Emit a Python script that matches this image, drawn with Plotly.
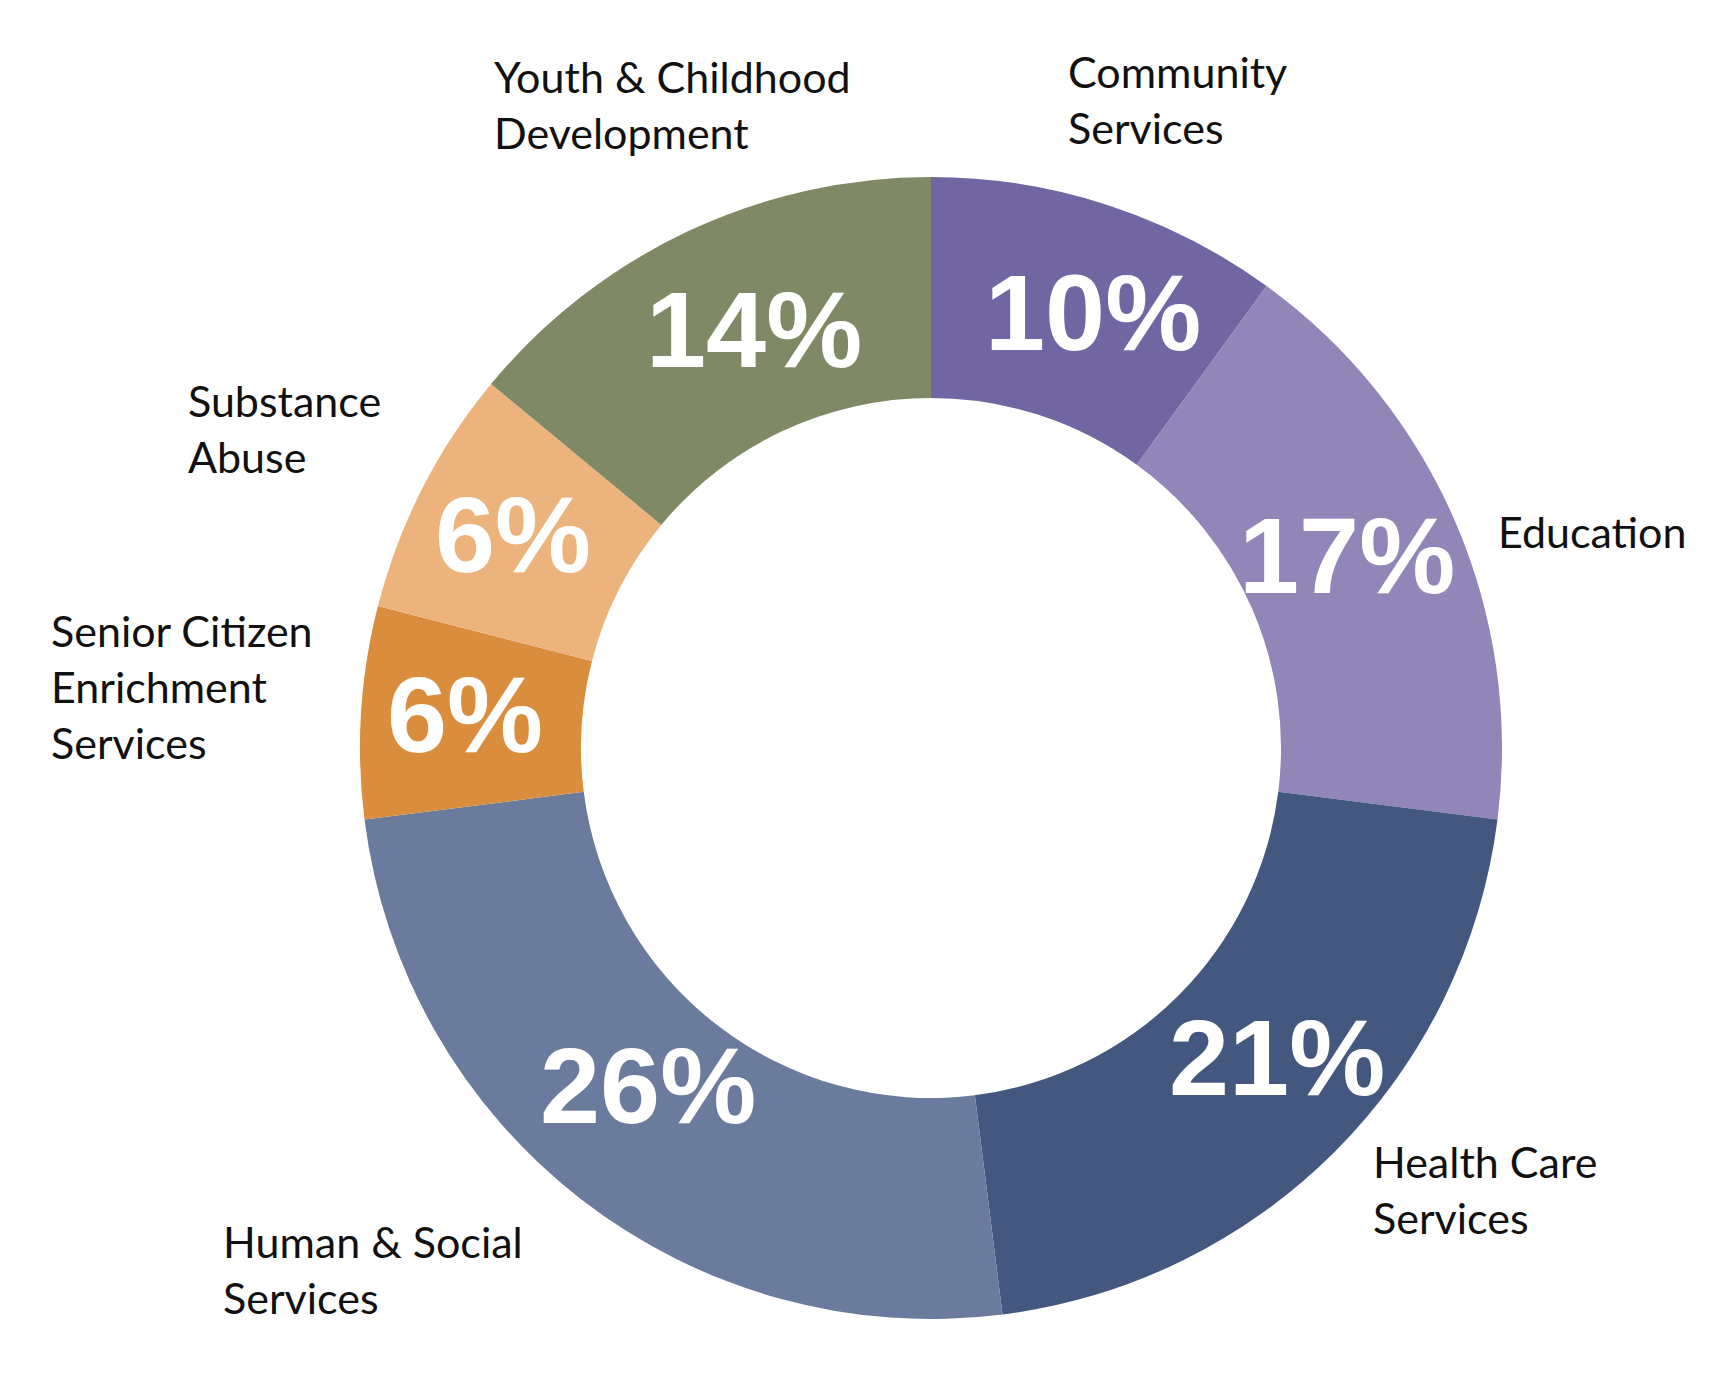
import math
import plotly.graph_objects as go

W, H = 1722, 1380
OFF = 8  # the page body adds an 8px margin; positions below are measured on the screenshot

categories = ["Community Services", "Education", "Health Care Services",
              "Human & Social Services", "Senior Citizen Enrichment Services",
              "Substance Abuse", "Youth & Childhood Development"]
values = [10, 17, 21, 25, 6, 7, 14]
# percentages as printed on the chart
pct_labels = ["10%", "17%", "21%", "26%", "6%", "6%", "14%"]
colors = ["#7266A2", "#9286B8", "#43577F", "#6B7B9E", "#DB8D3E", "#ECB47C", "#808966"]

# small hand nudges of the percentage labels: (degrees, px outward)
pct_nudge = [(2.4, 4), (-1.4, -2), (-3.2, 4), (2.1, -20), (0.5, 7), (0.0, 9), (2.3, -6)]

# outside labels: text, left edge (px), vertical centre (px)
side_labels = [
    ("Community<br>Services", 1066, 100),
    ("Education", 1496, 532),
    ("Health Care<br>Services", 1371, 1189),
    ("Human & Social<br>Services", 221, 1269),
    ("Senior Citizen<br>Enrichment<br>Services", 49, 686),
    ("Substance<br>Abuse", 186, 429),
    ("Youth & Childhood<br>Development", 492, 104),
]

CX, CY, R = 931, 748, 571   # ring centre and outer radius in px
HOLE = 0.613


def px_x(x):
    return (x - OFF) / W


def px_y(y):
    return 1 - (y - OFF) / H


def make_fig():
    fig = go.Figure(go.Pie(
        labels=categories,
        values=values,
        textinfo="none",
        marker=dict(colors=colors, line=dict(width=0)),
        hole=HOLE,
        sort=False,
        direction="clockwise",
        rotation=0,
        hoverinfo="skip",
        domain=dict(x=[px_x(CX - R), px_x(CX + R)],
                    y=[px_y(CY + R), px_y(CY - R)]),
    ))

    # percentage labels sit near the middle of each slice, halfway across the ring
    total = sum(values)
    r_mid = R * (1 + HOLE) / 2
    start = 0
    for v, t, (da, dr) in zip(values, pct_labels, pct_nudge):
        ang = math.radians((start + v / 2) / total * 360 + da)
        start += v
        r_txt = r_mid + dr
        fig.add_annotation(
            text=t, x=px_x(CX + r_txt * math.sin(ang)), y=px_y(CY - r_txt * math.cos(ang)),
            xref="paper", yref="paper",
            xanchor="center", yanchor="middle", showarrow=False,
            font=dict(family="Liberation Sans, Arial, sans-serif", size=108,
                      color="white", weight="bold"),
        )

    for txt, x, y in side_labels:
        fig.add_annotation(
            text=txt, x=px_x(x), y=px_y(y), xref="paper", yref="paper",
            xanchor="left", yanchor="middle", align="left", showarrow=False,
            font=dict(family="Lato, Open Sans, sans-serif", size=43, color="#111111"),
        )

    fig.update_layout(
        width=W, height=H,
        margin=dict(l=0, r=0, t=0, b=0),
        paper_bgcolor="white", plot_bgcolor="white",
        showlegend=False,
    )
    return fig


if __name__ == "__main__":
    fig = make_fig()
    fig.write_html("out.html")
